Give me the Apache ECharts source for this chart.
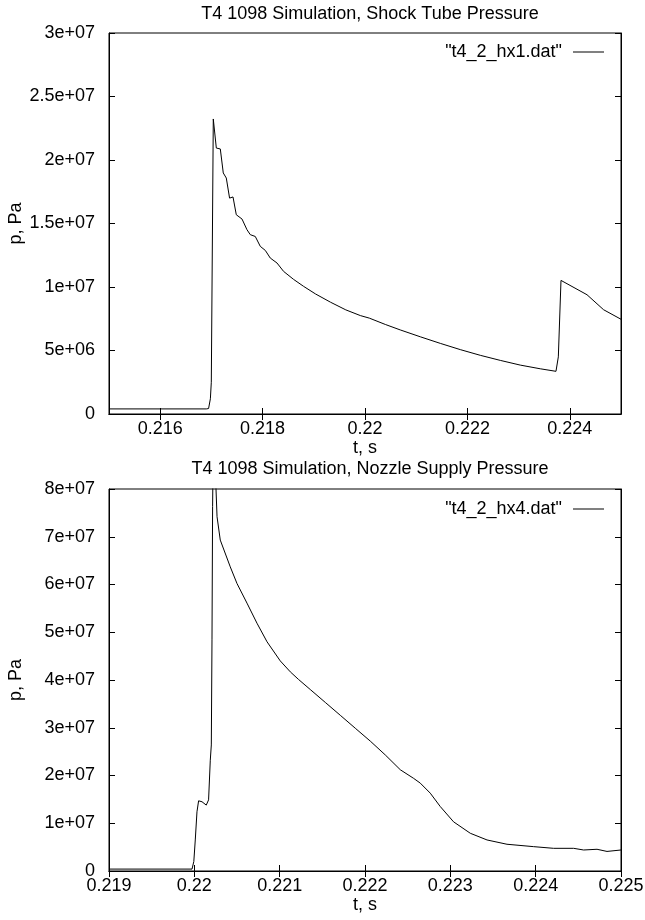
<!DOCTYPE html>
<html>
<head>
<meta charset="utf-8">
<script src="https://cdn.jsdelivr.net/npm/echarts@6/dist/echarts.min.js"></script>
<style>
html,body{margin:0;padding:0;background:#fff;}
#chart{width:645px;height:920px;}
</style>
</head>
<body>
<div id="chart"></div>
<script>
// ---- Data ----
const titleTop = 'T4 1098 Simulation, Shock Tube Pressure';
const titleBottom = 'T4 1098 Simulation, Nozzle Supply Pressure';
const legendTop = '"t4_2_hx1.dat"';
const legendBottom = '"t4_2_hx4.dat"';
const xName = 't, s';
const yName = 'p, Pa';

const xTicksTop = [0.216, 0.218, 0.220, 0.222, 0.224];
const xTicksBottom = [0.219, 0.220, 0.221, 0.222, 0.223, 0.224, 0.225];

// Shock tube pressure (hx1)
const tTop = [0.215, 0.21690, 0.216945, 0.21698, 0.216998, 0.217037, 0.217096, 0.217174, 0.217232, 0.217291,
  0.217355, 0.217422, 0.217486, 0.217598, 0.217695, 0.217760, 0.217857, 0.217955, 0.218053, 0.218150,
  0.218281, 0.218410, 0.218605, 0.218801, 0.219035, 0.219328, 0.219625, 0.219909, 0.220084, 0.220397,
  0.220689, 0.221080, 0.221471, 0.221861, 0.222252, 0.222643, 0.223033, 0.223424, 0.223730, 0.223776,
  0.223828, 0.224336, 0.224660, 0.225];
const pTop = [4.0e5, 4.0e5, 4.3e5, 1.2e6, 2.5e6, 2.323e7, 2.094e7, 2.087e7, 1.898e7, 1.858e7,
  1.70e7, 1.709e7, 1.569e7, 1.535e7, 1.451e7, 1.412e7, 1.398e7, 1.32e7, 1.288e7, 1.228e7,
  1.189e7, 1.123e7, 1.06e7, 1.005e7, 9.45e6, 8.8e6, 8.2e6, 7.75e6, 7.55e6, 7.05e6,
  6.62e6, 6.08e6, 5.56e6, 5.07e6, 4.62e6, 4.22e6, 3.85e6, 3.56e6, 3.36e6, 4.5e6,
  1.052e7, 9.39e6, 8.21e6, 7.46e6];

// Nozzle supply pressure (hx4)
const tBottom = [0.219, 0.219973, 0.219994, 0.220011, 0.220031, 0.220050, 0.220090, 0.220140, 0.220167, 0.220187,
  0.220199, 0.220207, 0.220214, 0.220222, 0.220254, 0.220266, 0.220304, 0.220421, 0.220500, 0.220617,
  0.220734, 0.220852, 0.221007, 0.221125, 0.221222, 0.221359, 0.221535, 0.221711, 0.221886, 0.222062,
  0.222238, 0.222414, 0.222570, 0.222648, 0.222765, 0.222882, 0.223038, 0.223234, 0.223430,
  0.223664, 0.223976, 0.224210, 0.224445, 0.224562, 0.224719, 0.224836, 0.225];
const pBottom = [4.0e5, 4.0e5, 2.0e6, 6.5e6, 1.24e7, 1.47e7, 1.45e7, 1.38e7, 1.49e7, 2.32e7,
  2.64e7, 4.84e7, 7.63e7, 9.0e7, 8.0e7, 7.42e7, 6.93e7, 6.37e7, 6.02e7, 5.61e7,
  5.19e7, 4.80e7, 4.40e7, 4.17e7, 4.01e7, 3.80e7, 3.53e7, 3.26e7, 2.99e7, 2.72e7,
  2.43e7, 2.12e7, 1.94e7, 1.84e7, 1.63e7, 1.35e7, 1.03e7, 7.9e6, 6.5e6,
  5.6e6, 5.1e6, 4.75e6, 4.75e6, 4.4e6, 4.55e6, 4.1e6, 4.4e6];

// ---- Chart ----
const FONT = '"Liberation Sans", Arial, Helvetica, sans-serif';
const FS = 18;

function fmtY(v) {
  if (v === 0) return '0';
  const e = Math.floor(Math.log10(v) + 1e-9);
  const m = +(v / Math.pow(10, e)).toFixed(3);
  return m + 'e+' + String(e).padStart(2, '0');
}
function fmtX(v) { return String(+v.toFixed(4)); }

const lbl = { color: '#000', fontFamily: FONT, fontSize: FS };
const axLine = { show: true, lineStyle: { color: '#000', width: 1 } };

function xAxisPair(gi, min, max, ticks) {
  return [
    { gridIndex: gi, type: 'value', position: 'bottom', min: min, max: max,
      axisLine: axLine, splitLine: { show: false },
      axisTick: { inside: true, length: 6, lineStyle: { color: '#000' }, customValues: ticks },
      axisLabel: Object.assign({ margin: 6, formatter: fmtX, customValues: ticks }, lbl),
      name: xName, nameLocation: 'middle', nameGap: 25, nameMoveOverlap: false, nameTextStyle: lbl },
    { gridIndex: gi, type: 'value', position: 'top', min: min, max: max,
      axisLine: axLine, splitLine: { show: false },
      axisTick: { inside: true, length: 6, lineStyle: { color: '#000' }, customValues: ticks },
      axisLabel: { show: false } }
  ];
}
function yAxisPair(gi, max, interval) {
  return [
    { gridIndex: gi, type: 'value', position: 'left', min: 0, max: max, interval: interval,
      axisLine: axLine, splitLine: { show: false },
      axisTick: { inside: true, length: 6, lineStyle: { color: '#000' } },
      axisLabel: Object.assign({ margin: 14, formatter: fmtY }, lbl),
      name: yName, nameLocation: 'middle', nameGap: 84, nameRotate: 90, nameMoveOverlap: false, nameTextStyle: lbl },
    { gridIndex: gi, type: 'value', position: 'right', min: 0, max: max, interval: interval,
      axisLine: axLine, splitLine: { show: false },
      axisTick: { inside: true, length: 6, lineStyle: { color: '#000' } },
      axisLabel: { show: false } }
  ];
}

const legendCommon = {
  right: 36, align: 'right', orient: 'vertical',
  icon: 'rect', itemWidth: 31, itemHeight: 1,
  itemStyle: { color: '#000' },
  textStyle: Object.assign({ padding: [0, 6, 0, 0] }, lbl),
  selectedMode: false
};

const option = {
  animation: false,
  backgroundColor: '#fff',
  title: [
    { text: titleTop, left: 365, top: 0, textAlign: 'center',
      textStyle: Object.assign({ fontWeight: 'normal' }, lbl) },
    { text: titleBottom, left: 365, top: 455, textAlign: 'center',
      textStyle: Object.assign({ fontWeight: 'normal' }, lbl) }
  ],
  legend: [
    Object.assign({ data: [legendTop], top: 38 }, legendCommon),
    Object.assign({ data: [legendBottom], top: 495 }, legendCommon)
  ],
  grid: [
    { left: 109, top: 33, width: 512, height: 381, show: true, borderColor: '#000', borderWidth: 1,
      containLabel: false, outerBoundsMode: 'none' },
    { left: 109, top: 489, width: 512, height: 382, show: true, borderColor: '#000', borderWidth: 1,
      containLabel: false, outerBoundsMode: 'none' }
  ],
  xAxis: [].concat(xAxisPair(0, 0.215, 0.225, xTicksTop), xAxisPair(1, 0.219, 0.225, xTicksBottom)),
  yAxis: [].concat(yAxisPair(0, 3e7, 5e6), yAxisPair(1, 8e7, 1e7)),
  series: [
    { name: legendTop, type: 'line', xAxisIndex: 0, yAxisIndex: 0,
      data: tTop.map((t, i) => [t, pTop[i]]),
      showSymbol: false, symbol: 'none', clip: true,
      lineStyle: { color: '#000', width: 1 }, itemStyle: { color: '#000' } },
    { name: legendBottom, type: 'line', xAxisIndex: 2, yAxisIndex: 2,
      data: tBottom.map((t, i) => [t, pBottom[i]]),
      showSymbol: false, symbol: 'none', clip: true,
      lineStyle: { color: '#000', width: 1 }, itemStyle: { color: '#000' } }
  ]
};

const chart = echarts.init(document.getElementById('chart'), null, { renderer: 'canvas' });
chart.setOption(option);
</script>
</body>
</html>
